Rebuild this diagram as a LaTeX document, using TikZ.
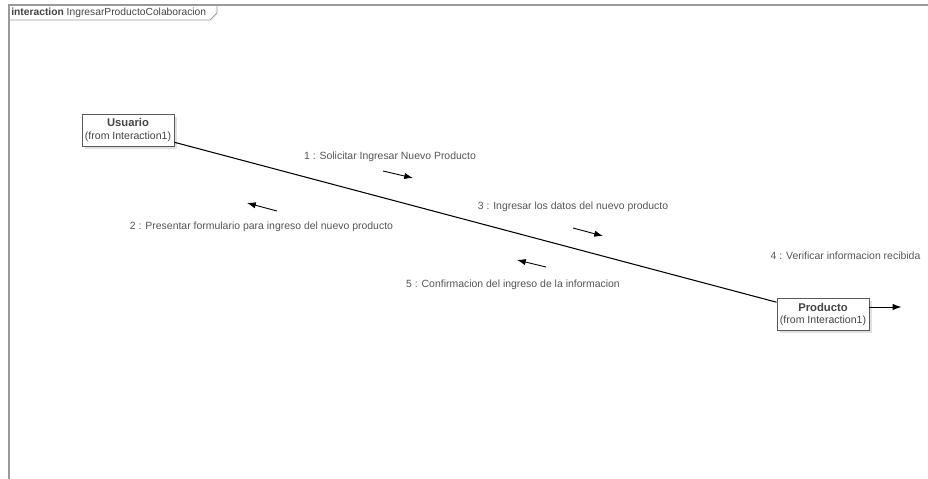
\documentclass[tikz,border=0pt]{standalone}
\usepackage{fontspec}
\setmainfont{Liberation Sans}
\usetikzlibrary{arrows.meta,shadows}
\definecolor{framegray}{HTML}{9A9A9A}
\definecolor{labelgray}{HTML}{555555}
\definecolor{boxtext}{HTML}{444444}
\tikzset{
	objbox/.style={draw=black!65, fill=white, line width=0.5pt, minimum width=1.84cm, minimum height=0.64cm, inner sep=0pt, align=center, font=\fontsize{6.0}{7.2}\selectfont, text=boxtext, drop shadow={shadow xshift=1.5pt, shadow yshift=-1.5pt, opacity=0.12, fill=black}},
	msglabel/.style={font=\fontsize{5.95}{7}\selectfont, text=labelgray, inner sep=0pt},
	msgarrow/.style={-{Latex[length=5pt,width=3.6pt]}, line width=0.5pt}
}

\begin{document}
\begin{tikzpicture}[x=0.02cm, y=-0.02cm]
	\useasboundingbox (0,0) rectangle (928,479);
	\fill[white] (0,0) rectangle (928,479);
	
	\draw[framegray, line width=1.1pt] (9,490) -- (9,5) -- (940,5);
	\draw[framegray, line width=0.5pt] (9,20) -- (210,20) -- (217,13) -- (217,5);
	\node[anchor=west, font=\fontsize{5.85}{7}\selectfont, text=boxtext, inner sep=0pt] (title) at (11,12.5) {\textbf{interaction} IngresarProductoColaboracion};
	
	\node[objbox] (usuario) at (128,130) {{\fontsize{6.4}{7.2}\selectfont\textbf{Usuario}}\\(from Interaction1)};
	\node[objbox] (producto) at (823,314.5) {{\fontsize{6.4}{7.2}\selectfont\textbf{Producto}}\\(from Interaction1)};
	\draw[line width=0.6pt] (usuario) -- (producto);
	
	\coordinate (m1a) at (383,171);
	\coordinate (m1b) at (413,178);
	\coordinate (m2a) at (277,211);
	\coordinate (m2b) at (247,203);
	\coordinate (m3a) at (573,228);
	\coordinate (m3b) at (603,236);
	\coordinate (m5a) at (546,267);
	\coordinate (m5b) at (517,260);
	\coordinate (m4a) at ([yshift=0.15cm]producto.east);
	\coordinate (m4b) at ([xshift=0.64cm,yshift=0.15cm]producto.east);
	
	\draw[msgarrow] (m1a) -- (m1b);
	\draw[msgarrow] (m2a) -- (m2b);
	\draw[msgarrow] (m3a) -- (m3b);
	\draw[msgarrow] (m5a) -- (m5b);
	\draw[msgarrow] (m4a) -- (m4b);
	
	\node[msglabel] (msg1) at (390,157) {1 : Solicitar Ingresar Nuevo Producto};
	\node[msglabel] (msg2) at (261.5,227) {2 : Presentar formulario para ingreso del nuevo producto};
	\node[msglabel] (msg3) at (573,207) {3 : Ingresar los datos del nuevo producto};
	\node[msglabel] (msg4) at (845.5,256) {4 : Verificar informacion recibida};
	\node[msglabel] (msg5) at (513,285) {5 : Confirmacion del ingreso de la informacion};
\end{tikzpicture}
\end{document}
